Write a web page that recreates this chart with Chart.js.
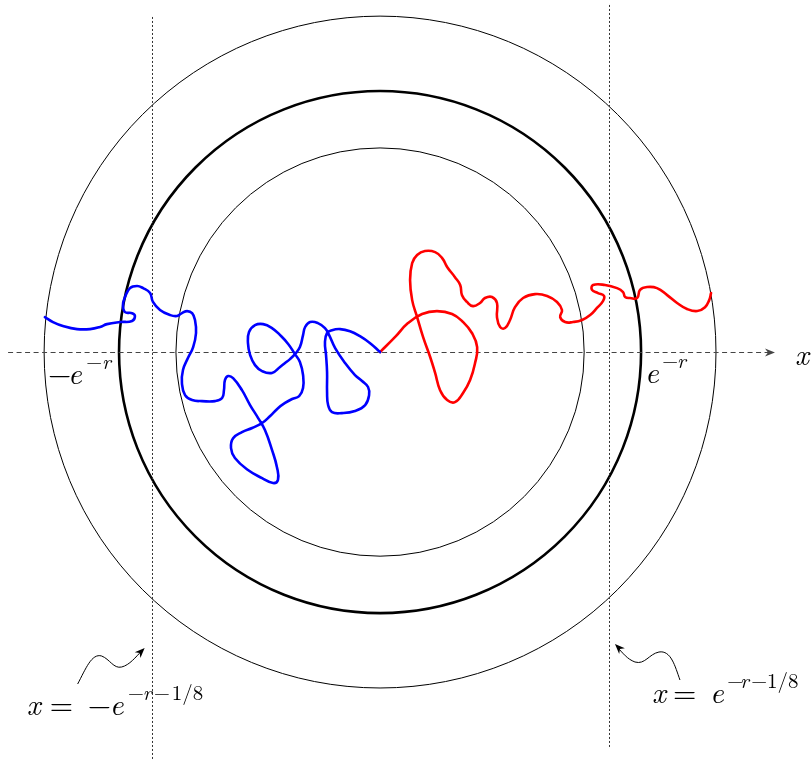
<!DOCTYPE html>
<html>
<head>
<meta charset="utf-8">
<script src="https://cdn.jsdelivr.net/npm/chart.js@4.4.0/dist/chart.umd.min.js"></script>
<style>
  html, body { margin: 0; padding: 0; background: #ffffff; }
  #chart { display: block; }
</style>
</head>
<body>
<canvas id="chart" width="811" height="761"></canvas>
<script>
// ####################### DATA (unit = e^{-r}) #######################

// circles: e^{-1/4}, 1, e^{1/4}
var circleRadii = [0.782, 1, 1.287];
var thickCircle = 1;

// dotted lines x = -e^{-r-1/8} and x = e^{-r-1/8}
var vlineX = [-0.875, 0.877];
var vlineTop = [1.284, 1.330];
var vlineBottom = [-1.567, -1.517];

// horizontal axis extent
var axisFrom = -1.425;
var axisTo = 1.513;

var tickValues = [-1, 1];

// blue walk (origin -> left), red walk (origin -> right)
var blueX = [0, -0.038, -0.077, -0.115, -0.153, -0.184, -0.203, -0.211, -0.207, -0.203,
    -0.203, -0.199, -0.184, -0.146, -0.096, -0.057, -0.042, -0.046, -0.069, -0.096,
    -0.134, -0.172, -0.195, -0.211, -0.238, -0.268, -0.287, -0.295, -0.307, -0.326,
    -0.345, -0.364, -0.383, -0.414, -0.452, -0.479, -0.498, -0.506, -0.502, -0.479,
    -0.448, -0.414, -0.383, -0.352, -0.326, -0.307, -0.295, -0.295, -0.310, -0.337,
    -0.364, -0.391, -0.421, -0.452, -0.490, -0.529, -0.563, -0.571, -0.556, -0.506,
    -0.452, -0.410, -0.391, -0.395, -0.414, -0.441, -0.467, -0.498, -0.529, -0.563,
    -0.582, -0.594, -0.598, -0.605, -0.632, -0.682, -0.720, -0.747, -0.759, -0.755,
    -0.736, -0.716, -0.705, -0.709, -0.720, -0.739, -0.759, -0.778, -0.805, -0.843,
    -0.870, -0.881, -0.908, -0.931, -0.958, -0.977, -0.985, -0.977, -0.950, -0.939,
    -0.950, -0.996, -1.046, -1.073, -1.111, -1.161, -1.215, -1.253, -1.284];
var blueY = [0, 0.034, 0.061, 0.080, 0.088, 0.084, 0.073, 0.038, -0.011, -0.077,
    -0.153, -0.203, -0.230, -0.234, -0.226, -0.203, -0.165, -0.134, -0.111, -0.088,
    -0.042, 0.015, 0.065, 0.092, 0.111, 0.115, 0.096, 0.065, 0.019, -0.008,
    -0.027, -0.042, -0.057, -0.080, -0.073, -0.050, -0.011, 0.034, 0.077, 0.103,
    0.107, 0.092, 0.065, 0.031, -0.008, -0.038, -0.088, -0.138, -0.169, -0.180,
    -0.195, -0.215, -0.245, -0.272, -0.291, -0.307, -0.330, -0.368, -0.406, -0.452,
    -0.483, -0.502, -0.490, -0.441, -0.375, -0.299, -0.253, -0.203, -0.146, -0.100,
    -0.092, -0.107, -0.146, -0.176, -0.188, -0.188, -0.184, -0.165, -0.119, -0.069,
    -0.023, 0.019, 0.073, 0.123, 0.149, 0.157, 0.149, 0.138, 0.142, 0.161,
    0.192, 0.226, 0.245, 0.253, 0.245, 0.211, 0.180, 0.153, 0.149, 0.138,
    0.119, 0.115, 0.107, 0.096, 0.088, 0.088, 0.100, 0.115, 0.134];

var redX = [0, 0.057, 0.107, 0.161, 0.218, 0.276, 0.318, 0.352, 0.372, 0.364,
    0.345, 0.318, 0.287, 0.257, 0.230, 0.211, 0.192, 0.165, 0.142, 0.123,
    0.115, 0.123, 0.142, 0.172, 0.211, 0.238, 0.257, 0.287, 0.307, 0.314,
    0.333, 0.356, 0.383, 0.402, 0.429, 0.448, 0.448, 0.460, 0.479, 0.498,
    0.517, 0.548, 0.594, 0.640, 0.678, 0.697, 0.690, 0.709, 0.739, 0.774,
    0.805, 0.831, 0.854, 0.858, 0.835, 0.812, 0.816, 0.862, 0.908, 0.931,
    0.939, 0.958, 0.985, 0.996, 1.023, 1.061, 1.100, 1.138, 1.176, 1.215,
    1.245, 1.261, 1.268];
var redY = [0, 0.057, 0.111, 0.146, 0.157, 0.146, 0.115, 0.073, 0.019, -0.042,
    -0.107, -0.157, -0.192, -0.184, -0.146, -0.080, -0.019, 0.057, 0.134, 0.199,
    0.276, 0.341, 0.372, 0.387, 0.383, 0.360, 0.326, 0.287, 0.257, 0.218,
    0.192, 0.176, 0.188, 0.207, 0.211, 0.188, 0.134, 0.096, 0.092, 0.123,
    0.172, 0.207, 0.222, 0.215, 0.192, 0.161, 0.134, 0.115, 0.115, 0.123,
    0.142, 0.169, 0.195, 0.215, 0.226, 0.238, 0.257, 0.257, 0.245, 0.230,
    0.211, 0.207, 0.207, 0.238, 0.249, 0.245, 0.218, 0.188, 0.165, 0.157,
    0.172, 0.199, 0.226];

// labels: [text, dx, style]  style: i = italic, n = upright, s* = superscript
var tickLabelLeft = [['\u2212', 0, 'n'], ['e', 20, 'i'], ['\u2212', 38, 'sn'], ['r', 54, 'si']];
var tickLabelRight = [['e', 0, 'i'], ['\u2212', 17, 'sn'], ['r', 32, 'si']];
var lineLabelLeft = [['x', 0, 'i'], ['=', 23, 'n'], ['\u2212', 61, 'n'], ['e', 83, 'i'],
    ['\u2212', 101, 'sn'], ['r', 116, 'si'], ['\u2212', 127, 'sn'], ['1/8', 145, 'sn']];
var lineLabelRight = [['x', 0, 'i'], ['=', 21, 'n'], ['e', 58, 'i'],
    ['\u2212', 75, 'sn'], ['r', 88, 'si'], ['\u2212', 99, 'sn'], ['1/8', 115, 'sn']];

var serif = '"Latin Modern Roman", "Liberation Serif", "DejaVu Serif", serif';

function toPoints(xs, ys) {
    return xs.map(function (x, i) { return {x: x, y: ys[i]}; });
}

// ####################### DRAW HELPERS #######################

function drawMath(ctx, x, y, parts) {
    ctx.fillStyle = '#000';
    ctx.textBaseline = 'alphabetic';
    ctx.textAlign = 'left';
    parts.forEach(function (p) {
        var sup = p[2].charAt(0) == 's';
        var italic = p[2].slice(-1) == 'i';
        ctx.font = (italic ? 'italic ' : '') + (sup ? 21 : 30) + 'px ' + serif;
        ctx.fillText(p[0], x + p[1], sup ? y - 15 : y);
    });
}

function stealth(ctx, x, y, angle, size, color) {
    ctx.save();
    ctx.translate(x, y);
    ctx.rotate(angle);
    ctx.fillStyle = color;
    ctx.beginPath();
    ctx.moveTo(0, 0);
    ctx.lineTo(-size, -size * 0.4);
    ctx.lineTo(-size * 0.7, 0);
    ctx.lineTo(-size, size * 0.4);
    ctx.closePath();
    ctx.fill();
    ctx.restore();
}

var diagram = {
    id: 'diagram',
    beforeDatasetsDraw: function (chart) {
        var ctx = chart.ctx;
        var sx = chart.scales.x, sy = chart.scales.y;
        var cx = sx.getPixelForValue(0), cy = sy.getPixelForValue(0);

        ctx.save();
        // circles
        circleRadii.forEach(function (r) {
            var rp = sx.getPixelForValue(r) - cx;
            ctx.beginPath();
            ctx.arc(cx, cy, rp, 0, Math.PI * 2);
            ctx.lineWidth = r == thickCircle ? 2.6 : 1;
            ctx.strokeStyle = '#000';
            ctx.stroke();
        });

        // dotted verticals
        ctx.setLineDash([2, 2]);
        ctx.lineWidth = 1;
        ctx.strokeStyle = '#333';
        vlineX.forEach(function (v, i) {
            var px = Math.round(sx.getPixelForValue(v)) + 0.5;
            ctx.beginPath();
            ctx.moveTo(px, sy.getPixelForValue(vlineTop[i]));
            ctx.lineTo(px, sy.getPixelForValue(vlineBottom[i]));
            ctx.stroke();
        });

        // dashed x axis
        var ay = Math.round(cy) + 0.5;
        var ax1 = sx.getPixelForValue(axisFrom), ax2 = sx.getPixelForValue(axisTo);
        ctx.setLineDash([5, 3.5]);
        ctx.strokeStyle = '#444';
        ctx.beginPath();
        ctx.moveTo(ax1, ay);
        ctx.lineTo(ax2 - 6, ay);
        ctx.stroke();
        ctx.setLineDash([]);
        stealth(ctx, ax2, ay, 0, 10, '#444');
        ctx.restore();
    },
    afterDatasetsDraw: function (chart) {
        var ctx = chart.ctx;
        var sx = chart.scales.x, sy = chart.scales.y;
        var cy = sy.getPixelForValue(0);
        var bottom = chart.chartArea.bottom;

        ctx.save();
        // tick labels under the axis
        drawMath(ctx, sx.getPixelForValue(tickValues[0]) - 71, cy + 32, tickLabelLeft);
        drawMath(ctx, sx.getPixelForValue(tickValues[1]) + 4, cy + 31, tickLabelRight);

        ctx.font = 'italic 30px ' + serif;
        ctx.fillText('x', sx.getPixelForValue(axisTo) + 20, cy + 13);

        // labels for the dotted lines
        var lx = sx.getPixelForValue(vlineX[0]), rx = sx.getPixelForValue(vlineX[1]);
        drawMath(ctx, lx - 125, bottom - 46, lineLabelLeft);
        drawMath(ctx, rx + 43, bottom - 58, lineLabelRight);

        // wavy pointers
        ctx.lineWidth = 1;
        ctx.strokeStyle = '#000';
        ctx.beginPath();
        ctx.moveTo(lx - 74, bottom - 77);
        ctx.bezierCurveTo(lx - 66, bottom - 92, lx - 60, bottom - 108, lx - 50, bottom - 105);
        ctx.bezierCurveTo(lx - 42, bottom - 102, lx - 38, bottom - 92, lx - 30, bottom - 94);
        ctx.bezierCurveTo(lx - 22, bottom - 96, lx - 16, bottom - 104, lx - 10, bottom - 110);
        ctx.stroke();
        stealth(ctx, lx - 7, bottom - 113, -Math.PI / 4, 10, '#000');

        ctx.beginPath();
        ctx.moveTo(rx + 71, bottom - 81);
        ctx.bezierCurveTo(rx + 66, bottom - 95, rx + 62, bottom - 111, rx + 50, bottom - 109);
        ctx.bezierCurveTo(rx + 40, bottom - 107, rx + 36, bottom - 96, rx + 26, bottom - 99);
        ctx.bezierCurveTo(rx + 18, bottom - 102, rx + 14, bottom - 108, rx + 9, bottom - 113);
        ctx.stroke();
        stealth(ctx, rx + 6, bottom - 117, -Math.PI * 3 / 4, 10, '#000');
        ctx.restore();
    }
};

// ############################### MAIN ###############################

function build() {
    new Chart(document.getElementById('chart'), {
        type: 'scatter',
        data: {
            datasets: [
                {
                    data: toPoints(blueX, blueY),
                    showLine: true,
                    borderColor: '#0000ff',
                    borderWidth: 2.6,
                    pointRadius: 0,
                    tension: 0.45,
                    borderCapStyle: 'round',
                    borderJoinStyle: 'round',
                    clip: false
                },
                {
                    data: toPoints(redX, redY),
                    showLine: true,
                    borderColor: '#ff0000',
                    borderWidth: 2.6,
                    pointRadius: 0,
                    tension: 0.45,
                    borderCapStyle: 'round',
                    borderJoinStyle: 'round',
                    clip: false
                }
            ]
        },
        options: {
            responsive: false,
            animation: false,
            events: [],
            layout: { padding: 0 },
            plugins: { legend: { display: false }, tooltip: { enabled: false } },
            scales: {
                x: { type: 'linear', display: false, min: -1.456, max: 1.651 },
                y: { type: 'linear', display: false, min: -1.567, max: 1.349 }
            }
        },
        plugins: [diagram]
    });
}

// make sure the serif faces are ready before drawing the labels
Promise.all([
    document.fonts.load('italic 30px ' + serif),
    document.fonts.load('30px ' + serif)
]).then(build, build);
</script>
</body>
</html>
